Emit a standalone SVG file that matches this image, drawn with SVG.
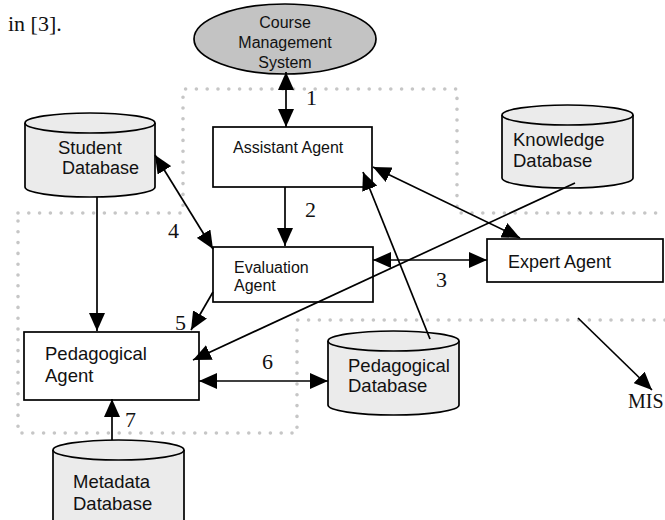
<svg xmlns="http://www.w3.org/2000/svg" width="665" height="520" viewBox="0 0 665 520">
<style>
.dots{fill:none;stroke:#c6c6c6;stroke-width:3.6;stroke-dasharray:0 10.8;stroke-linecap:round}
.box{fill:#fff;stroke:#000;stroke-width:1.7}
.db{fill:#ebebeb;stroke:#000;stroke-width:1.7}
.lbl{font-family:"Liberation Sans",Arial,sans-serif;font-size:16px;fill:#111}
.num{font-family:"Liberation Serif","Times New Roman",serif;font-size:22px;fill:#111}
.con{fill:none;stroke:#000;stroke-width:1.7}
</style>
<defs>
<marker id="ah" viewBox="0 0 18 16" refX="18" refY="8" markerWidth="18" markerHeight="16" markerUnits="userSpaceOnUse" orient="auto-start-reverse">
<path d="M0,0 L18,8 L0,16 z" fill="#000"/>
</marker>
</defs>
<rect width="665" height="520" fill="#fff"/>
<text class="num" x="8" y="31">in [3].</text>
<path class="dots" d="M18,213 H183 V89 H457 V213 H665 M665,320 H297 V433 H18 V213"/>

<g id="cms">
<ellipse cx="285" cy="39" rx="91" ry="35" fill="#c3c3c3" stroke="#000" stroke-width="1.7"/>
<text class="lbl" x="285" y="28" text-anchor="middle">Course</text>
<text class="lbl" x="285" y="48" text-anchor="middle">Management</text>
<text class="lbl" x="285" y="68" text-anchor="middle">System</text>
</g>
<g id="student-db">
<path class="db" d="M25,123 V187 A65,10 0 0 0 155,187 V123"/>
<ellipse class="db" cx="90" cy="123" rx="65" ry="10"/>
<text class="lbl" x="58" y="154" style="font-size:18.5px">Student</text>
<text class="lbl" x="62" y="174" style="font-size:18px">Database</text>
</g>
<g id="assistant">
<rect class="box" x="213" y="127" width="159" height="60"/>
<text class="lbl" x="233" y="153">Assistant Agent</text>
</g>
<g id="knowledge-db">
<path class="db" d="M502,115 V178 A65.5,10 0 0 0 633,178 V115"/>
<ellipse class="db" cx="567.5" cy="115" rx="65.5" ry="10"/>
<text class="lbl" x="513" y="146" style="font-size:18.5px">Knowledge</text>
<text class="lbl" x="513" y="167" style="font-size:18.5px">Database</text>
</g>
<g id="evaluation">
<rect class="box" x="213" y="247" width="160" height="55"/>
<text class="lbl" x="234" y="273">Evaluation</text>
<text class="lbl" x="234" y="291">Agent</text>
</g>
<g id="expert">
<rect class="box" x="487" y="239" width="176" height="43"/>
<text class="lbl" x="508" y="268" style="font-size:18px">Expert Agent</text>
</g>
<g id="pedagogical-agent">
<rect class="box" x="24" y="332" width="175" height="68"/>
<text class="lbl" x="45" y="360" style="font-size:18.5px">Pedagogical</text>
<text class="lbl" x="45" y="382" style="font-size:18.5px">Agent</text>
</g>
<g id="pedagogical-db">
<path class="db" d="M328,341 V405 A65.5,10 0 0 0 459,405 V341"/>
<ellipse class="db" cx="393.5" cy="341" rx="65.5" ry="10"/>
<text class="lbl" x="348" y="372" style="font-size:18.5px">Pedagogical</text>
<text class="lbl" x="348" y="392" style="font-size:18.5px">Database</text>
</g>
<g id="metadata-db">
<path class="db" d="M53,450 V530 A65.5,10 0 0 0 184,530 V450"/>
<ellipse class="db" cx="118.5" cy="450" rx="65.5" ry="10"/>
<text class="lbl" x="73" y="488" style="font-size:18.5px">Metadata</text>
<text class="lbl" x="73" y="510" style="font-size:18.5px">Database</text>
</g>
<g id="mis">
<text class="num" x="628" y="408" style="font-size:20px">MIS</text>
</g>

<g id="connectors">
<path class="con" d="M286,72 V127" marker-start="url(#ah)" marker-end="url(#ah)"/>
<path class="con" d="M285,187 V246" marker-end="url(#ah)"/>
<path class="con" d="M155,155 L213,249" marker-start="url(#ah)" marker-end="url(#ah)"/>
<path class="con" d="M373,260 H487" marker-start="url(#ah)" marker-end="url(#ah)"/>
<path class="con" d="M373,167 L520,238" marker-start="url(#ah)" marker-end="url(#ah)"/>
<path class="con" d="M575,183 L193,360" marker-end="url(#ah)"/>
<path class="con" d="M430,339 L363,172" marker-end="url(#ah)"/>
<path class="con" d="M97,197 V331" marker-end="url(#ah)"/>
<path class="con" d="M213,292 L191,330" marker-end="url(#ah)"/>
<path class="con" d="M199,381 H328" marker-start="url(#ah)" marker-end="url(#ah)"/>
<path class="con" d="M112,440 V399" marker-end="url(#ah)"/>
<path class="con" d="M578,318 L652,390" marker-end="url(#ah)"/>
<text class="num" x="306" y="105">1</text>
<text class="num" x="305" y="217">2</text>
<text class="num" x="436" y="287">3</text>
<text class="num" x="168" y="238">4</text>
<text class="num" x="175" y="330">5</text>
<text class="num" x="262" y="369">6</text>
<text class="num" x="125" y="427">7</text>
</g>
</svg>
